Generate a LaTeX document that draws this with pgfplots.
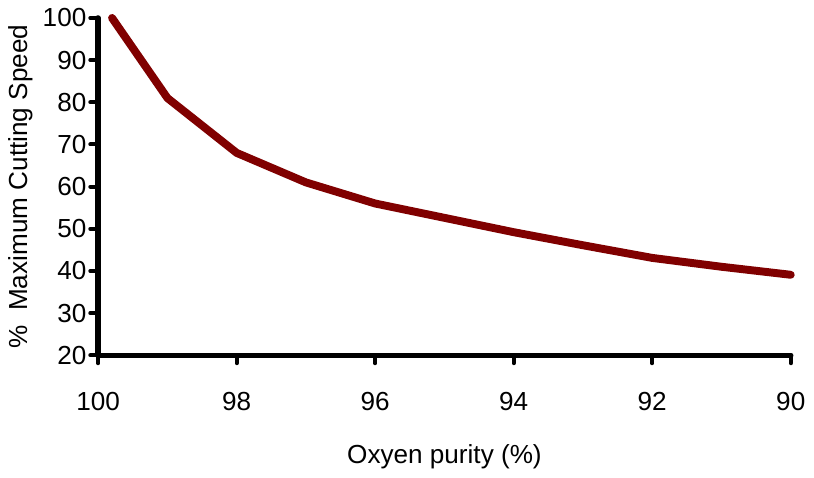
\documentclass[border=0pt]{standalone}
\usepackage{pgfplots}
\pgfplotsset{compat=1.18}
\usepackage{fontspec}
\setmainfont{Liberation Sans}
\definecolor{linered}{HTML}{800000}
\begin{document}
\fontsize{26.5}{31}\selectfont
\begin{tikzpicture}
\begin{axis}[
  scale only axis,
  width=700bp, height=341bp,
  xmin=90, xmax=100, ymin=20, ymax=100,
  x dir=reverse,
  axis x line*=bottom, axis y line*=left,
  axis line style={line width=5.5bp, black, line cap=round},
  xtick={90,92,94,96,98,100},
  ytick={20,30,40,50,60,70,80,90,100},
  tick align=outside,
  major tick length=8bp,
  tick style={line width=4bp, black, line cap=round},
  tick label style={font=\fontsize{26.5}{31}\selectfont},
  /pgf/number format/assume math mode=true,
  xticklabel style={yshift=-20bp},
  yticklabel style={xshift=5bp},
  xlabel={Oxyen purity (\%)},
  ylabel={\%\ \ Maximum Cutting Speed},
  label style={font=\fontsize{26.5}{31}\selectfont},
  xlabel style={yshift=-17bp},
  ylabel style={yshift=-8bp},
  clip=false,
]
\addplot[color=linered, line width=8bp, line cap=round, line join=round] coordinates {
(99.8,100) (99,81) (98,68) (97,61) (96,56) (95,52.6) (94,49.2) (93,46.1) (92,43.1) (91,41.0) (90,39.1)
};
\end{axis}
\end{tikzpicture}
\end{document}
